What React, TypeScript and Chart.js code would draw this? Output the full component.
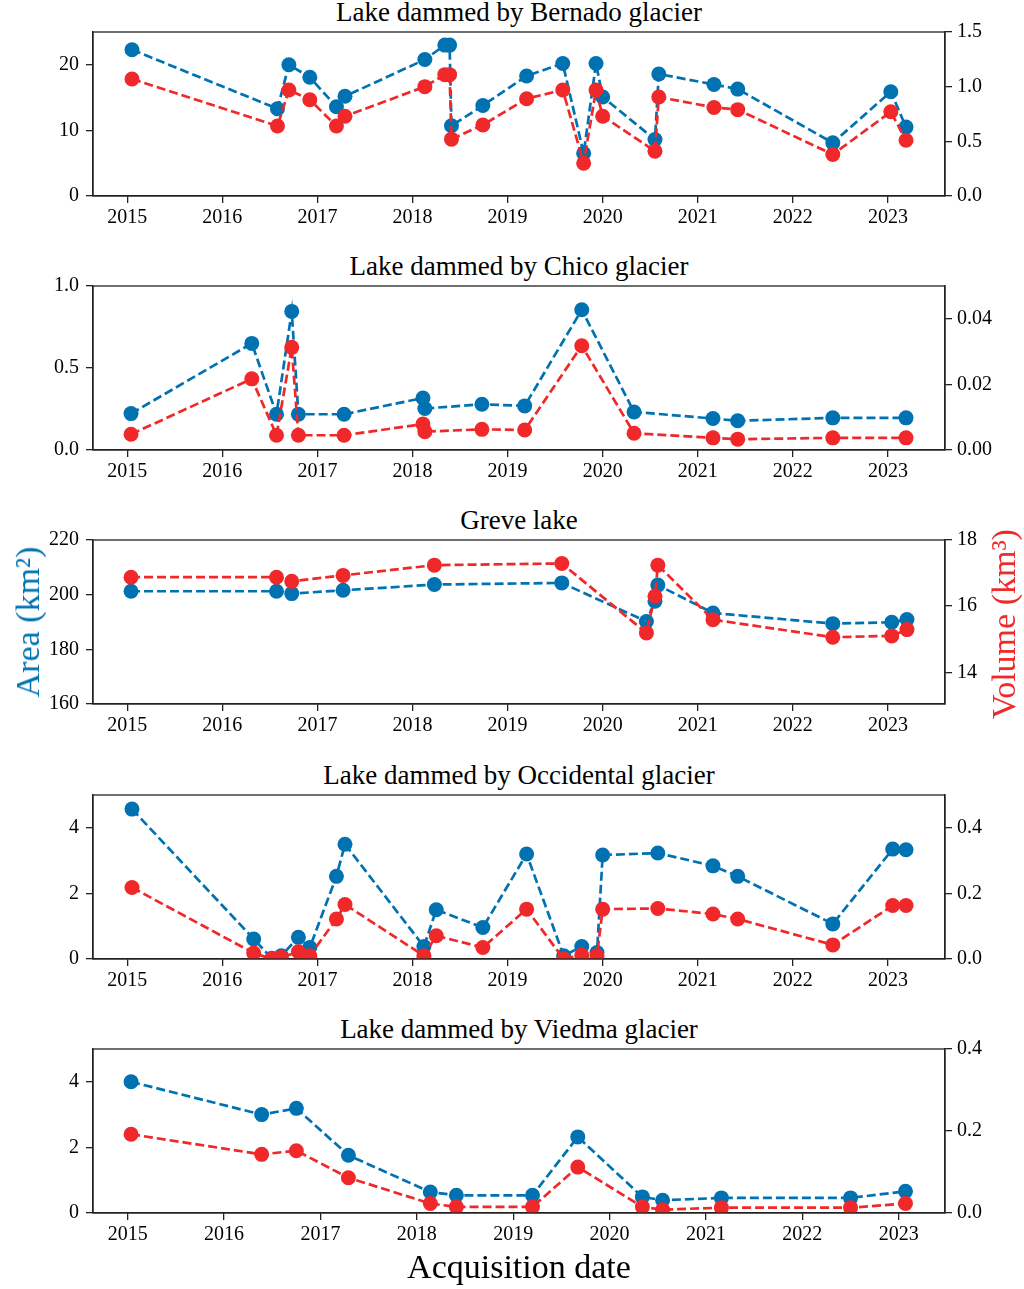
import React, { useEffect, useRef } from "react";
import { Chart, registerables } from "chart.js";

Chart.register(...registerables);

const BLUE = "#0072B2";
const RED = "#F0282A";
const FONT = "'Liberation Serif', 'DejaVu Serif', serif";

// ---------- data ----------
const YEAR_TICKS = [2015, 2016, 2017, 2018, 2019, 2020, 2021, 2022, 2023];

const BERNADO_DATES = [2015.05, 2016.58, 2016.7, 2016.92, 2017.2, 2017.29, 2018.13, 2018.34, 2018.39, 2018.41, 2018.74, 2019.2, 2019.58, 2019.8, 2019.93, 2020.0, 2020.55, 2020.59, 2021.17, 2021.42, 2022.42, 2023.03, 2023.19];
const BERNADO_AREA = [22.3, 13.3, 20.0, 18.1, 13.6, 15.2, 20.8, 23.0, 23.0, 10.7, 13.8, 18.3, 20.2, 6.5, 20.2, 15.1, 8.6, 18.6, 17.0, 16.3, 8.1, 15.9, 10.5];
const BERNADO_VOLUME = [1.07, 0.64, 0.97, 0.88, 0.64, 0.73, 1.0, 1.11, 1.11, 0.52, 0.65, 0.89, 0.97, 0.3, 0.97, 0.73, 0.41, 0.905, 0.81, 0.79, 0.38, 0.77, 0.51];
const BERNADO_AREA_TICKS = [0, 10, 20];
const BERNADO_VOLUME_TICKS = [0, 0.5, 1.0, 1.5];

const CHICO_DATES = [2015.04, 2016.31, 2016.57, 2016.73, 2016.8, 2017.28, 2018.11, 2018.13, 2018.73, 2019.18, 2019.78, 2020.33, 2021.16, 2021.42, 2022.42, 2023.19];
const CHICO_AREA = [0.222, 0.65, 0.218, 0.845, 0.218, 0.218, 0.317, 0.253, 0.279, 0.269, 0.855, 0.232, 0.192, 0.178, 0.196, 0.196];
const CHICO_VOLUME = [0.0048, 0.0217, 0.0045, 0.0313, 0.0045, 0.0045, 0.0079, 0.0056, 0.0063, 0.0061, 0.0318, 0.0051, 0.0037, 0.0033, 0.0037, 0.0037];
const CHICO_AREA_TICKS = [0, 0.5, 1.0];
const CHICO_VOLUME_TICKS = [0, 0.02, 0.04];

const GREVE_DATES = [2015.04, 2016.57, 2016.73, 2017.27, 2018.23, 2019.57, 2020.46, 2020.55, 2020.58, 2021.16, 2022.42, 2023.04, 2023.2];
const GREVE_AREA = [201.25, 201.25, 200.4, 201.6, 203.7, 204.3, 190.2, 197.6, 203.5, 193.3, 189.4, 189.9, 190.9];
const GREVE_VOLUME = [16.875, 16.875, 16.75, 16.93, 17.24, 17.29, 15.19, 16.3, 17.24, 15.59, 15.06, 15.1, 15.29];
const GREVE_AREA_TICKS = [160, 180, 200, 220];
const GREVE_VOLUME_TICKS = [14, 16, 18];

const OCCIDENTAL_DATES = [2015.05, 2016.33, 2016.52, 2016.62, 2016.8, 2016.92, 2017.2, 2017.29, 2018.12, 2018.25, 2018.74, 2019.2, 2019.59, 2019.78, 2019.94, 2020.0, 2020.58, 2021.16, 2021.42, 2022.42, 2023.05, 2023.19];
const OCCIDENTAL_AREA = [4.57, 0.61, 0.02, 0.1, 0.66, 0.35, 2.52, 3.5, 0.38, 1.5, 0.96, 3.2, 0.1, 0.38, 0.2, 3.17, 3.23, 2.84, 2.52, 1.07, 3.35, 3.33];
const OCCIDENTAL_VOLUME = [0.218, 0.018, 0.0, 0.005, 0.022, 0.01, 0.122, 0.166, 0.01, 0.071, 0.035, 0.152, 0.0, 0.012, 0.01, 0.152, 0.154, 0.137, 0.122, 0.043, 0.163, 0.163];
const OCCIDENTAL_AREA_TICKS = [0, 2, 4];
const OCCIDENTAL_VOLUME_TICKS = [0, 0.2, 0.4];

const VIEDMA_DATES = [2015.035, 2016.39, 2016.75, 2017.29, 2018.14, 2018.41, 2019.2, 2019.67, 2020.34, 2020.55, 2021.16, 2022.5, 2023.07];
const VIEDMA_AREA = [4.0, 3.0, 3.19, 1.76, 0.64, 0.54, 0.54, 2.32, 0.49, 0.39, 0.46, 0.46, 0.66];
const VIEDMA_VOLUME = [0.192, 0.143, 0.152, 0.086, 0.023, 0.015, 0.015, 0.112, 0.015, 0.008, 0.013, 0.013, 0.023];
const VIEDMA_AREA_TICKS = [0, 2, 4];
const VIEDMA_VOLUME_TICKS = [0, 0.2, 0.4];

type PanelDef = {
  title: string;
  dates: number[];
  area: number[];
  volume: number[];
  xMin: number;
  xMax: number;
  areaMin: number;
  areaMax: number;
  areaTicks: number[];
  areaDec: number;
  volMin: number;
  volMax: number;
  volTicks: number[];
  volDec: number;
};

const PANELS: PanelDef[] = [
  { title: "Lake dammed by Bernado glacier", dates: BERNADO_DATES, area: BERNADO_AREA, volume: BERNADO_VOLUME, xMin: 2014.64, xMax: 2023.6, areaMin: 0, areaMax: 25, areaTicks: BERNADO_AREA_TICKS, areaDec: 0, volMin: 0, volMax: 1.5, volTicks: BERNADO_VOLUME_TICKS, volDec: 1 },
  { title: "Lake dammed by Chico glacier", dates: CHICO_DATES, area: CHICO_AREA, volume: CHICO_VOLUME, xMin: 2014.64, xMax: 2023.6, areaMin: 0, areaMax: 1.0, areaTicks: CHICO_AREA_TICKS, areaDec: 1, volMin: 0, volMax: 0.05, volTicks: CHICO_VOLUME_TICKS, volDec: 2 },
  { title: "Greve lake", dates: GREVE_DATES, area: GREVE_AREA, volume: GREVE_VOLUME, xMin: 2014.64, xMax: 2023.6, areaMin: 160, areaMax: 220, areaTicks: GREVE_AREA_TICKS, areaDec: 0, volMin: 13.04, volMax: 18, volTicks: GREVE_VOLUME_TICKS, volDec: 0 },
  { title: "Lake dammed by Occidental glacier", dates: OCCIDENTAL_DATES, area: OCCIDENTAL_AREA, volume: OCCIDENTAL_VOLUME, xMin: 2014.64, xMax: 2023.6, areaMin: 0, areaMax: 5, areaTicks: OCCIDENTAL_AREA_TICKS, areaDec: 0, volMin: 0, volMax: 0.5, volTicks: OCCIDENTAL_VOLUME_TICKS, volDec: 1 },
  { title: "Lake dammed by Viedma glacier", dates: VIEDMA_DATES, area: VIEDMA_AREA, volume: VIEDMA_VOLUME, xMin: 2014.64, xMax: 2023.48, areaMin: 0, areaMax: 5, areaTicks: VIEDMA_AREA_TICKS, areaDec: 0, volMin: 0, volMax: 0.4, volTicks: VIEDMA_VOLUME_TICKS, volDec: 1 },
];

// ---------- layout ----------
const PAGE_W = 1024;
const PAGE_H = 1289;
const PLOT_LEFT = 93;
const PLOT_RIGHT = 945;
const FIRST_TOP = 32;
const PANEL_STEP = 254.2;
const PLOT_H = 164;
const PAD_TOP = 10;
const XAXIS_H = 40;
const CANVAS_H = PAD_TOP + PLOT_H + XAXIS_H;

const framePlugin = {
  id: "frame",
  afterDatasetsDraw(chart: any) {
    const { ctx, chartArea: a } = chart;
    ctx.save();
    ctx.strokeStyle = "#222";
    ctx.lineWidth = 1.3;
    ctx.strokeRect(a.left, a.top, a.right - a.left, a.bottom - a.top);
    ctx.restore();
  },
};

const noOverhang = (s: any) => {
  s.paddingTop = 0;
  s.paddingBottom = 0;
  s.paddingLeft = 0;
  s.paddingRight = 0;
};

function PanelChart({ p, top }: { p: PanelDef; top: number }) {
  const ref = useRef<HTMLCanvasElement | null>(null);
  useEffect(() => {
    if (!ref.current) return;
    const tickFont = { family: FONT, size: 20 };
    const gridCommon = {
      drawOnChartArea: false,
      drawTicks: true,
      tickLength: 7,
      color: "#222",
      lineWidth: 1.3,
    };
    const border = { display: true, color: "#222", width: 1.3 };
    const mk = (vals: number[]) => p.dates.map((d, i) => ({ x: d, y: vals[i] }));
    const ds = (label: string, vals: number[], axis: string, color: string, order: number) => ({
      label,
      data: mk(vals),
      yAxisID: axis,
      order,
      borderColor: color,
      backgroundColor: color,
      borderWidth: 2.7,
      borderDash: [9, 4],
      pointRadius: 7.5,
      pointBorderWidth: 0,
      pointBackgroundColor: color,
      tension: 0,
    });
    const chart = new Chart(ref.current, {
      type: "line",
      data: {
        datasets: [ds("Area", p.area, "y", BLUE, 2), ds("Volume", p.volume, "y1", RED, 1)],
      },
      options: {
        animation: false,
        responsive: false,
        maintainAspectRatio: false,
        events: [],
        layout: { padding: { top: PAD_TOP, left: 0, right: 0, bottom: 0 } },
        plugins: { legend: { display: false }, tooltip: { enabled: false }, title: { display: false } },
        scales: {
          x: {
            type: "linear",
            position: "bottom",
            min: p.xMin,
            max: p.xMax,
            afterBuildTicks: (s: any) => {
              s.ticks = YEAR_TICKS.map((v) => ({ value: v }));
            },
            afterFit: (s: any) => {
              s.height = XAXIS_H;
              noOverhang(s);
            },
            ticks: {
              font: tickFont,
              color: "#000",
              padding: 3,
              maxRotation: 0,
              autoSkip: false,
              callback: (v: any) => String(v),
            },
            grid: gridCommon,
            border,
          },
          y: {
            type: "linear",
            position: "left",
            min: p.areaMin,
            max: p.areaMax,
            afterBuildTicks: (s: any) => {
              s.ticks = p.areaTicks.map((v) => ({ value: v }));
            },
            afterFit: (s: any) => {
              s.width = PLOT_LEFT;
              noOverhang(s);
            },
            ticks: {
              font: tickFont,
              color: "#000",
              padding: 7,
              autoSkip: false,
              callback: (v: any) => Number(v).toFixed(p.areaDec),
            },
            grid: gridCommon,
            border,
          },
          y1: {
            type: "linear",
            position: "right",
            min: p.volMin,
            max: p.volMax,
            afterBuildTicks: (s: any) => {
              s.ticks = p.volTicks.map((v) => ({ value: v }));
            },
            afterFit: (s: any) => {
              s.width = PAGE_W - PLOT_RIGHT;
              noOverhang(s);
            },
            ticks: {
              font: tickFont,
              color: "#000",
              padding: 5,
              autoSkip: false,
              callback: (v: any) => Number(v).toFixed(p.volDec),
            },
            grid: gridCommon,
            border,
          },
        },
      } as any,
      plugins: [framePlugin],
    });
    return () => chart.destroy();
  }, [p]);

  return (
    <>
      <div
        style={{
          position: "absolute",
          left: PLOT_LEFT,
          width: PLOT_RIGHT - PLOT_LEFT,
          top: top - 33,
          textAlign: "center",
          fontFamily: FONT,
          fontSize: 27,
          lineHeight: "26px",
          color: "#000",
          whiteSpace: "nowrap",
        }}
      >
        {p.title}
      </div>
      <canvas
        ref={ref}
        width={PAGE_W}
        height={CANVAS_H}
        style={{ position: "absolute", left: 0, top: top - PAD_TOP, width: PAGE_W, height: CANVAS_H }}
      />
    </>
  );
}

export default function App() {
  return (
    <div
      style={{
        position: "absolute",
        left: 0,
        top: 0,
        width: PAGE_W,
        height: PAGE_H,
        background: "#fff",
        overflow: "hidden",
      }}
    >
      {PANELS.map((p, i) => (
        <PanelChart key={p.title} p={p} top={FIRST_TOP + i * PANEL_STEP} />
      ))}
      <div
        style={{
          position: "absolute",
          left: 28,
          top: 622,
          transform: "translate(-50%, -50%) rotate(-90deg)",
          fontFamily: FONT,
          fontSize: 34,
          lineHeight: "34px",
          color: BLUE,
          whiteSpace: "nowrap",
        }}
      >
        Area (km²)
      </div>
      <div
        style={{
          position: "absolute",
          left: 1004,
          top: 624,
          transform: "translate(-50%, -50%) rotate(-90deg)",
          fontFamily: FONT,
          fontSize: 34,
          lineHeight: "34px",
          color: RED,
          whiteSpace: "nowrap",
        }}
      >
        Volume (km³)
      </div>
      <div
        style={{
          position: "absolute",
          left: PLOT_LEFT,
          width: PLOT_RIGHT - PLOT_LEFT,
          top: 1250,
          textAlign: "center",
          fontFamily: FONT,
          fontSize: 34,
          lineHeight: "34px",
          color: "#000",
          whiteSpace: "nowrap",
        }}
      >
        Acquisition date
      </div>
    </div>
  );
}
